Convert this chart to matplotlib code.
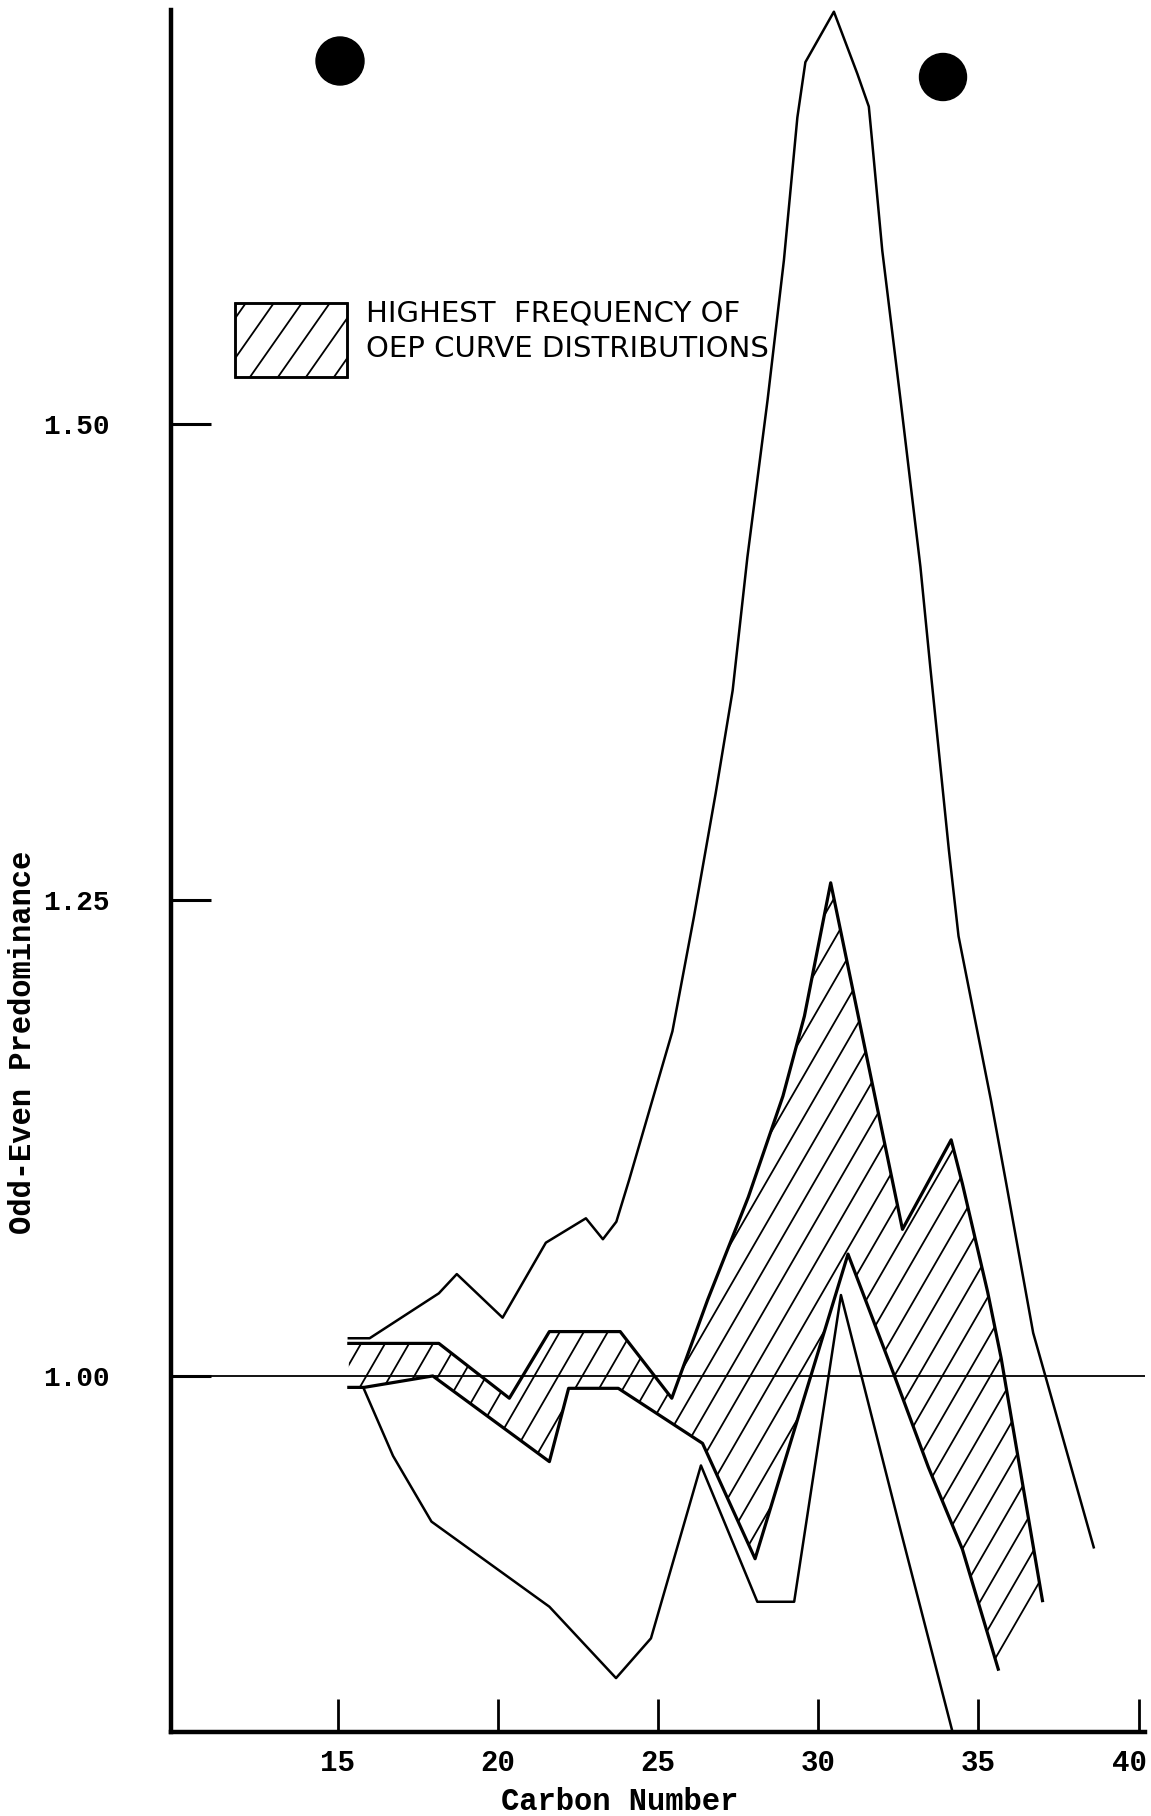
import numpy as np
import matplotlib
matplotlib.use('Agg')
import matplotlib.pyplot as plt
from matplotlib.patches import Polygon, Rectangle, Circle
from matplotlib.transforms import ScaledTranslation

# Envelope curves of the odd-even predominance (OEP) distributions
upper_c = [15.35, 16.0, 18.16, 18.72, 20.15, 21.5, 22.75, 23.28, 23.7, 24.1, 25.45,
           26.12, 26.8, 27.33, 27.79, 28.42, 28.93, 29.35, 29.6, 30.49, 31.22,
           31.58, 31.68, 32.0, 32.57, 33.19, 33.5, 34.08, 34.38, 35.39, 35.87,
           36.71, 37.09, 38.6]
upper_v = [1.0198, 1.0198, 1.0434, 1.0535, 1.0306, 1.070, 1.0828, 1.0718, 1.081, 1.103, 1.181,
           1.241, 1.306, 1.360, 1.430, 1.5126, 1.586, 1.661, 1.690, 1.7165, 1.684,
           1.6667, 1.649, 1.591, 1.5126, 1.425, 1.372, 1.276, 1.231, 1.145, 1.101,
           1.0226, 1.0, 0.91]

lower_c = [15.38, 15.8, 16.73, 17.93, 21.61, 23.69, 24.78, 26.34, 28.1, 29.25, 30.71, 32.57, 34.3]
lower_v = [0.994, 0.994, 0.958, 0.9235, 0.8788, 0.8413, 0.8622, 0.953, 0.8814, 0.8814, 1.0425, 0.919, 0.806]

# Band of highest frequency (hatched)
band_top_c = [15.35, 18.16, 20.36, 21.61, 23.82, 25.43, 26.55, 27.82, 28.9, 29.57, 30.39,
              31.3, 32.63, 34.15, 34.5, 35.29, 35.71, 37.0]
band_top_v = [1.0171, 1.0171, 0.9883, 1.0233, 1.0233, 0.9883, 1.04, 1.094, 1.147, 1.189, 1.259,
              1.185, 1.077, 1.124, 1.101, 1.044, 1.0094, 0.882]
band_bot_c = [15.35, 15.83, 17.97, 21.61, 22.21, 23.76, 26.39, 28.03, 30.93, 32.38, 33.44, 34.5, 35.62]
band_bot_v = [0.994, 0.994, 1.0, 0.955, 0.9935, 0.9935, 0.9646, 0.904, 1.064, 1.0, 0.952, 0.909, 0.846]

x_ticks = [15, 20, 25, 30, 35, 40]
y_ticks = [1.00, 1.25, 1.50]
y_tick_labels = ['1.00', '1.25', '1.50']

W, H = 1151, 1816
mono = 'Liberation Mono'

fig = plt.figure(figsize=(W / 100, H / 100), dpi=100)
ax = fig.add_axes([171 / W, 84 / H, 974 / W, 1722 / H])
ax.set_xlim(9.8, 40.2)
ax.set_ylim(0.813, 1.7174)

for side in ['top', 'right']:
    ax.spines[side].set_visible(False)
for side in ['left', 'bottom']:
    ax.spines[side].set_linewidth(3.2)

ax.tick_params(axis='x', direction='in', length=24, width=2, pad=12)
ax.tick_params(axis='y', direction='in', length=29, width=2.2, pad=44)
ax.set_xticks(x_ticks)
ax.set_xticklabels([str(t) for t in x_ticks], fontfamily=mono, fontsize=21, fontweight='bold')
ax.set_yticks(y_ticks)
ax.set_yticklabels(y_tick_labels, fontfamily=mono, fontsize=20, fontweight='bold')

# last x label sits a little left of its tick, as on the sheet
last = ax.get_xticklabels()[-1]
last.set_transform(last.get_transform() + ScaledTranslation(-0.09, 0, fig.dpi_scale_trans))


def hatch_patch(patch, spacing_px=24, angle=60, lw=1.2):
    # diagonal hatch lines clipped to the patch
    ax.add_patch(patch)
    sx, sy = ax.transData.transform((1, 1)) - ax.transData.transform((0, 0))
    slope = np.tan(np.radians(angle)) * sx / sy
    x0, x1 = ax.get_xlim()
    y0, y1 = ax.get_ylim()
    run = (y1 - y0) / slope
    for xs in np.arange(x0 - run, x1, spacing_px / sx):
        ln, = ax.plot([xs, xs + run], [y0, y1], color='black', lw=lw)
        ln.set_clip_path(patch)


band = Polygon(np.column_stack([band_top_c + band_bot_c[::-1], band_top_v + band_bot_v[::-1]]),
               closed=True, facecolor='none', edgecolor='none')
hatch_patch(band, spacing_px=24, angle=60, lw=1.3)

ax.axhline(1.0, color='black', lw=1.3)
ax.plot(band_top_c, band_top_v, color='black', lw=2.3)
ax.plot(band_bot_c, band_bot_v, color='black', lw=2.3)
ax.plot(upper_c, upper_v, color='black', lw=1.8)
ax.plot(lower_c, lower_v, color='black', lw=1.8)

# legend box
key = Rectangle((0.0657, 0.7869), 0.115, 0.0429, transform=ax.transAxes,
                facecolor='none', edgecolor='black', lw=1.8)
hatch_patch(key, spacing_px=28, angle=55, lw=1.3)
ax.add_patch(Rectangle((0.0657, 0.7869), 0.115, 0.0429, transform=ax.transAxes,
                       facecolor='none', edgecolor='black', lw=1.8))
ax.text(0.2002, 0.8235, 'HIGHEST  FREQUENCY OF', transform=ax.transAxes,
        fontsize=21, va='center', ha='left')
ax.text(0.2002, 0.8031, 'OEP CURVE DISTRIBUTIONS', transform=ax.transAxes,
        fontsize=21, va='center', ha='left')

fig.text(620 / W, 1 - 1802 / H, 'Carbon Number', fontfamily=mono, fontsize=22,
         fontweight='bold', ha='center', va='center')
fig.text(23 / W, 1 - 1042 / H, 'Odd-Even Predominance', fontfamily=mono, fontsize=22,
         fontweight='bold', rotation=90, ha='center', va='center')

# punched holes at the top of the sheet
fig.add_artist(Circle((3.40, (H - 61) / 100), 0.24, transform=fig.dpi_scale_trans,
                      color='black'))
fig.add_artist(Circle((9.43, (H - 77) / 100), 0.235, transform=fig.dpi_scale_trans,
                      color='black'))

fig.savefig('out.png', dpi=100)
